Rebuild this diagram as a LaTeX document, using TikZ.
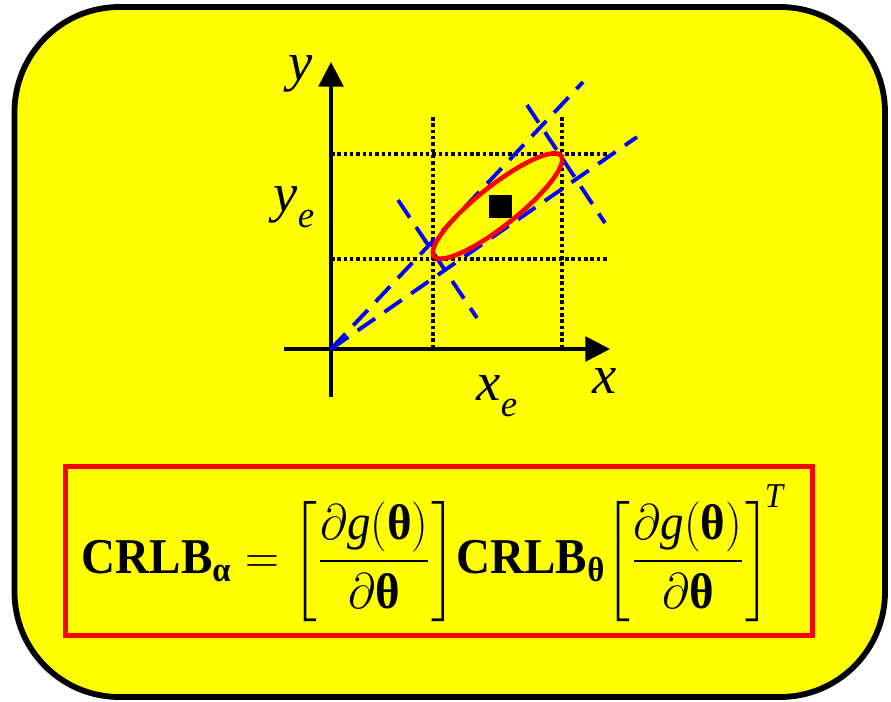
\documentclass[tikz,border=0pt]{standalone}
\usepackage{amsmath}
\usepackage{fontspec}
\setmainfont{Liberation Serif}
\usetikzlibrary{positioning,arrows.meta}
\definecolor{panel}{RGB}{255,255,0}
\newcommand{\sublbl}[2]{\textit{#1}\raisebox{-0.3em}{\fontsize{21}{21}\selectfont\textit{#2}}}

\begin{document}
\begin{tikzpicture}[x=0.02cm, y=-0.02cm,
    axis/.style={line width=2.1pt, -{Triangle[length=14pt,width=14pt]}},
    guide/.style={line width=2pt, dash pattern=on 2pt off 1.6pt},
    bearing/.style={blue, line width=2.2pt, dash pattern=on 12pt off 6.5pt},
    lbl/.style={font=\fontsize{31}{33}\selectfont, inner sep=0pt}]
    \useasboundingbox (0,0) rectangle (891,701);
    \draw[line width=3.3pt, fill=panel, rounded corners=2.1cm] (14.5,7) rectangle (885,697);

    % axes
    \coordinate (o) at (331,349);
    \coordinate (xstart) at (284,349);
    \coordinate (xend) at (610,349);
    \coordinate (ystart) at (331,397);
    \coordinate (yend) at (331,62);
    \draw[axis] (xstart) -- (xend);
    \draw[axis] (ystart) -- (yend);

    % guides
    \coordinate (g1a) at (433,117);
    \coordinate (g1b) at (433,349);
    \coordinate (g2a) at (562,117);
    \coordinate (g2b) at (562,349);
    \coordinate (h1a) at (331,154);
    \coordinate (h1b) at (607,154);
    \coordinate (h2a) at (331,259);
    \coordinate (h2b) at (607,259);
    \draw[guide] (g1a) -- (g1b);
    \draw[guide] (g2a) -- (g2b);
    \draw[guide] (h1a) -- (h1b);
    \draw[guide] (h2a) -- (h2b);

    % bearings
    \coordinate (b1) at (583,82);
    \coordinate (b2) at (637,137);
    \coordinate (p1a) at (398,200);
    \coordinate (p1b) at (477,318);
    \coordinate (p2a) at (527,105);
    \coordinate (p2b) at (605,223);
    \draw[bearing] (o) -- (b1);
    \draw[bearing] (o) -- (b2);
    \draw[bearing] (p1a) -- (p1b);
    \draw[bearing] (p2a) -- (p2b);

    % error ellipse
    \coordinate (c) at (497.5,206);
    \draw[red, line width=2.6pt, rotate around={38.4:(c)}] (c) ellipse [x radius=81, y radius=20];
    \node[fill=black, minimum size=0.46cm, inner sep=0pt] (est) at (500.5,206.5) {};

    % labels
    \node[lbl] (ylab) at (301,74) {\textit{y}};
    \node[lbl] (yelab) at (294,207) {\sublbl{y}{e}};
    \node[lbl] (xlab) at (605,381) {\textit{x}};
    \node[lbl] (xelab) at (497,396) {\sublbl{x}{e}};

    % formula
    \node[draw=red, line width=2.8pt, minimum width=14.94cm, minimum height=3.38cm] (crlbbox) at (439,551) {};
    \node[xscale=1.55, yscale=1.65, transform shape, font=\fontsize{17.28}{20}\selectfont] (crlb) at (433,553)
      {$\textbf{CRLB}_{\textbf{α}} = \left[\dfrac{\partial\mathit{g}(\textbf{θ})}{\partial\textbf{θ}}\right]\!\textbf{CRLB}_{\textbf{θ}}\!\left[\dfrac{\partial\mathit{g}(\textbf{θ})}{\partial\textbf{θ}}\right]^{\!\raisebox{0.3ex}{$\scriptstyle\mathit{T}$}}$};
\end{tikzpicture}
\end{document}
